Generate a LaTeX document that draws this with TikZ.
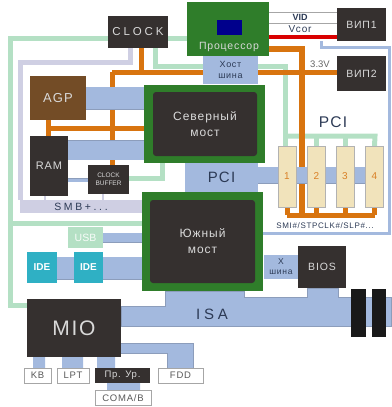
\documentclass[tikz,border=0pt]{standalone}
\usepackage{fontspec}
\setmainfont{Liberation Sans}
\newfontfamily\widefont[LetterSpace=8]{Liberation Sans}
\newfontfamily\widerfont[LetterSpace=25]{Liberation Sans}
\usetikzlibrary{positioning,backgrounds}
\definecolor{paleg}{HTML}{B4E0C4}
\definecolor{lav}{HTML}{CFCFE3}
\definecolor{orng}{HTML}{D8740F}
\definecolor{busb}{HTML}{A3B9DE}
\definecolor{edgeb}{HTML}{8C9DBB}
\definecolor{dark}{HTML}{35302F}
\definecolor{frameg}{HTML}{2F7D2A}
\definecolor{cardy}{HTML}{F1E3BB}
\definecolor{idec}{HTML}{2FB0C4}
\definecolor{inkb}{HTML}{2C3A55}
\tikzset{box/.style={fill=dark,text=white!85!black,outer sep=0,inner sep=0,align=center,font=\fontsize{10.5}{12}\selectfont\widefont},
            frame/.style={fill=frameg,outer sep=0,inner sep=0},
            chip/.style={box,rounded corners=3,font=\fontsize{12}{16}\selectfont\widefont},
            port/.style={fill=white,draw=gray!70,line width=.8,text=gray!70!black,outer sep=0,inner sep=0,font=\fontsize{9.5}{10}\selectfont\widefont},
            card/.style={fill=cardy,draw=gray!60,line width=.5,text=orange!70!gray,outer sep=0,inner sep=0,minimum width=18,minimum height=61,font=\fontsize{10}{11}\selectfont},
            tag/.style={inner sep=0,outer sep=0,align=center,text=inkb,font=\fontsize{9}{11}\selectfont\widefont},
            pg/.style={draw=paleg,line width=5},
            lv/.style={draw=lav,line width=5},
            og/.style={draw=orng,line width=5},
            bus/.style={draw=edgeb,line width=.5,double=busb,double distance=#1}}
\begin{document}
\begin{tikzpicture}[x=1pt,y=-1pt]
\useasboundingbox (0,0) rectangle (391,407);
\node[box,minimum width=60,minimum height=32,font=\fontsize{11.5}{12}\selectfont\widerfont] at (138,32)(clock){CLOCK};
\node[frame,minimum width=82,minimum height=54] at (228,29)(cpu){};
\node[fill=blue!55!black,minimum width=25,minimum height=15,outer sep=0,inner sep=0] at (229.5,27.5)(core){};
\node[text=white!85!black,inner sep=0,font=\fontsize{10.5}{11}\selectfont\widefont] at (229,47)(cpuname){Процессор};
\node[fill=busb,tag,minimum width=55,minimum height=28] at (230.5,70)(host){Хост\\шина};
\node[box,minimum width=49,minimum height=33] at (361.5,24.5)(vip1){ВИП1};
\node[box,minimum width=49,minimum height=35] at (361.5,73.5)(vip2){ВИП2};
\node[box,fill=brown!60!black,minimum width=56,minimum height=44,font=\fontsize{13}{14}\selectfont\widefont] at (58,98)(agp){AGP};
\node[box,minimum width=38,minimum height=60,font=\fontsize{11}{12}\selectfont\widefont] at (49,166)(ram){RAM};
\node[box,minimum width=41,minimum height=29,font=\fontsize{6.5}{8.5}\selectfont] at (108.5,179.5)(buffer){CLOCK\\BUFFER};
\node[frame,minimum width=121,minimum height=78] at (204.5,124)(north){};
\node[chip,minimum width=104,minimum height=64] at (205,124)(northchip){Северный\\мост};
\node[frame,minimum width=121,minimum height=99] at (202.5,241.5)(south){};
\node[chip,minimum width=105,minimum height=83] at (202.5,241.5)(southchip){Южный\\мост};
\node[fill=busb,tag,minimum width=73,minimum height=29,font=\fontsize{15}{16}\selectfont\widefont] at (221.5,177.5)(pcibox){PCI};
\node[card] at (287,176.5)(c1){1};
\node[card] at (316.5,176.5)(c2){2};
\node[card] at (345,176.5)(c3){3};
\node[card] at (374.5,176.5)(c4){4};
\node[fill=lav,tag,minimum width=122,minimum height=13,font=\fontsize{10.5}{11}\selectfont\widerfont] at (81,206.5)(smb){SMB+...};
\node[fill=paleg,tag,text=white!90!paleg,minimum width=35,minimum height=21,font=\fontsize{10.5}{11}\selectfont] at (85.5,237.5)(usb){USB};
\node[fill=idec,tag,text=white,minimum width=30,minimum height=31,font=\fontsize{10}{11}\selectfont\bfseries] at (42,267.5)(ide1){IDE};
\node[fill=idec,tag,text=white,minimum width=29,minimum height=31,font=\fontsize{10}{11}\selectfont\bfseries] at (88.5,267.5)(ide2){IDE};
\node[box,minimum width=94,minimum height=58,font=\fontsize{21}{22}\selectfont\widefont] at (74,328)(mio){MIO};
\node[box,minimum width=48,minimum height=42] at (322,267)(bios){BIOS};
\node[fill=busb,tag,minimum width=34,minimum height=24,font=\fontsize{8.5}{10}\selectfont\widefont] at (281,267)(xbus){Х\\шина};
\node[fill=black!90,minimum width=15,minimum height=48,outer sep=0,inner sep=0] at (358.5,313)(slot1){};
\node[fill=black!90,minimum width=14,minimum height=48,outer sep=0,inner sep=0] at (379,313)(slot2){};
\node[port,minimum width=27,minimum height=15] at (37.5,375.5)(kb){KB};
\node[port,minimum width=32,minimum height=15] at (73,375.5)(lpt){LPT};
\node[box,minimum width=55,minimum height=15,font=\fontsize{9.5}{10}\selectfont\widefont] at (122.5,375.5)(ctl){Пр. Ур.};
\node[port,minimum width=45,minimum height=15] at (180.5,375.5)(fdd){FDD};
\node[port,minimum width=56,minimum height=15] at (123,398)(com){COMA/B};
\node[tag,font=\fontsize{9}{10}\selectfont\bfseries] at (300,17.5)(vid){VID};
\node[tag,font=\fontsize{10}{11}\selectfont\widefont] at (300,29)(vcor){Vcor};
\node[tag,text=gray!80!black,font=\fontsize{9.5}{10}\selectfont] at (320,64)(v33){3.3V};
\node[tag,font=\fontsize{15.5}{16}\selectfont\widefont] at (333,122.5)(pcitxt){PCI};
\node[tag,font=\fontsize{8}{9}\selectfont\widefont] at (325,226)(smi){SMI\#/STPCLK\#/SLP\#...};
\node[tag,font=\fontsize{15}{16}\selectfont\widerfont] at (212,314)(isatxt){ISA};
\begin{pgfonlayer}{background}
% clock and power
\draw[pg] (clock.west |- 0,38) -- (10,38) -- (10,305) -- (mio.west |- 0,305);
\draw[pg] (clock.east |- 0,38) -- (cpu.west |- 0,38);
\draw[pg] (10,223) -- (south.west |- 0,223);
\draw[pg] (155,48) -- (155,66) -- (285,66) -- (285,146);
\draw[pg] (285,136) -- (375,136) -- (c4.north);
\draw[pg] (c2.north |- 0,136) -- (c2.north);
\draw[pg] (c3.north |- 0,136) -- (c3.north);
\draw[pg] (162,160) -- (162,178) -- (buffer.east |- 0,178);
\draw[lv] (130,48) -- (130,62) -- (20,62) -- (20,200);
\draw[lv,line width=2] (45,196) -- (45,200);
\draw[lv,line width=2] (103,194) -- (103,200);
\draw[og] (141,48) -- (141,72) -- (vip2.west |- 0,72);
\draw[og] (112,72) -- (141,72);
\draw[og] (112,72) -- (buffer.north -| 112,0);
\draw[og] (agp.south -| 48,0) -- (ram.north -| 48,0);
\draw[og] (48,128) -- (north.west |- 0,128);
\draw[og,line width=6] (cpu.east |- 0,49) -- (302,49) -- (302,215);
\draw[og] (287,215) -- (375,215);
\draw[og] (c1.south) -- (287,215);
\draw[og] (c2.south) -- (c2.south |- 0,215);
\draw[og] (c3.south) -- (c3.south |- 0,215);
\draw[og] (c4.south) -- (c4.south |- 0,215);
\draw[draw=gray!70,line width=.8] (cpu.east |- 0,12.5) -- (vip1.west |- 0,12.5);
\draw[draw=gray!70,line width=.8] (cpu.east |- 0,23) -- (vip1.west |- 0,23);
\draw[draw=red!85!black,line width=4.5] (cpu.east |- 0,37) -- (vip1.west |- 0,37);
\draw[draw=busb,line width=3] (321,41) -- (321,47) -- (389,47) -- (389,233) -- (south.east |- 0,233);
% buses
\draw[bus=22] (agp.east) -- (north.west |- agp.east);
\draw[bus=19] (ram.east |- 0,150) -- (north.west |- 0,150);
\draw[bus=3] (ram.east |- 0,180) -- (buffer.west |- 0,180);
\draw[bus=16] (pcibox.east |- 0,175) -- (c4.west |- 0,175);
\draw[bus=9] (usb.east |- 0,237.5) -- (south.west |- 0,237.5);
\draw[bus=22] (ide1.east |- 0,268) -- (south.west |- 0,268);
\draw[draw=edgeb,fill=busb,line width=.5] (mio.east |- 0,343) -- (193,343) -- (193,368) -- (167,368) -- (167,353) -- (mio.east |- 0,353);
\draw[draw=edgeb,fill=busb,line width=.5] (mio.east |- 0,306) -- (165,306) -- (165,291) -- (244,291) -- (244,297) -- (307,297) -- (307,288) -- (338,288) -- (338,297) -- (391,297) -- (391,326) -- (mio.east |- 0,326) -- cycle;
\fill[busb] (33,357) rectangle (45,368) (62,357) rectangle (83,368) (97,357) rectangle (115,368) (107,383) rectangle (140,391);
\end{pgfonlayer}
\end{tikzpicture}
\end{document}
